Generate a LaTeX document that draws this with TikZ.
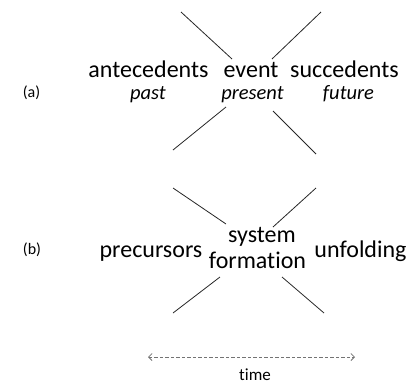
\documentclass[tikz,border=0pt]{standalone}
\usepackage{fontspec}
\setmainfont{Carlito}[Ligatures=NoCommon]
\usetikzlibrary{arrows.meta}
\begin{document}
\begin{tikzpicture}[x=1pt,y=-1pt,
  word/.style={anchor=base,inner sep=0pt,font=\fontsize{24}{28}\selectfont},
  era/.style={anchor=base,inner sep=0pt,font=\fontsize{20.5}{24}\selectfont\itshape},
  tag/.style={anchor=base,inner sep=0pt,font=\fontsize{16}{19}\selectfont},
  stroke/.style={draw=black!85,line width=0.8pt},
  timeline/.style={draw=black!55,line width=0.8pt,dashed,dash pattern=on 3.5pt off 2pt,
    {Straight Barb[length=3.5pt,width=7pt]}-{Straight Barb[length=3.5pt,width=7pt]}}]
\useasboundingbox (0,0) rectangle (413,386);

% (a) event between antecedents and succedents
\node[tag]  (la)   at (31.5,97)  {(a)};
\node[word] (ante) at (148.5,77) {antecedents};
\node[word] (evt)  at (251,77)   {event};
\node[word] (succ) at (344.5,77) {succedents};
\node[era]  (past) at (148,99)   {past};
\node[era]  (pres) at (252.5,99) {present};
\node[era]  (fut)  at (348.5,99) {future};

\coordinate (a1) at (181,12);  \coordinate (a2) at (232,59);
\coordinate (a3) at (321,12);  \coordinate (a4) at (272,59);
\coordinate (a5) at (226,107); \coordinate (a6) at (173,150);
\coordinate (a7) at (273,111); \coordinate (a8) at (316,154);
\draw[stroke] (a1) -- (a2);
\draw[stroke] (a3) -- (a4);
\draw[stroke] (a5) -- (a6);
\draw[stroke] (a7) -- (a8);

% (b) system formation between precursors and unfolding
\node[tag]  (lb)   at (32,254)   {(b)};
\node[word] (prec) at (151,257)  {precursors};
\node[word] (sys)  at (262,242)  {system};
\node[word] (form) at (257.5,268){formation};
\node[word] (unf)  at (360.5,257){unfolding};

\coordinate (b1) at (173,188); \coordinate (b2) at (226,224);
\coordinate (b3) at (316,188); \coordinate (b4) at (273,227);
\coordinate (b5) at (220,277); \coordinate (b6) at (173,313);
\coordinate (b7) at (282,277); \coordinate (b8) at (324,313);
\draw[stroke] (b1) -- (b2);
\draw[stroke] (b3) -- (b4);
\draw[stroke] (b5) -- (b6);
\draw[stroke] (b7) -- (b8);

% time axis
\coordinate (t0) at (148,357);
\coordinate (t1) at (355,357);
\draw[timeline] (t0) -- (t1);
\node[tag,font=\fontsize{17}{20}\selectfont] (time) at (255,380) {time};
\end{tikzpicture}
\end{document}
